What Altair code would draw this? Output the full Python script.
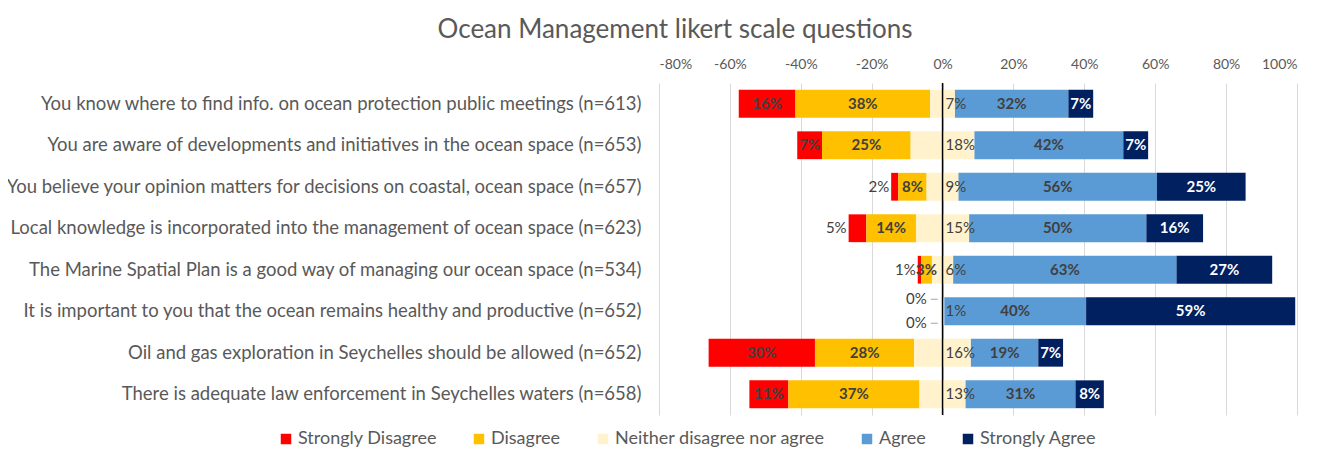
import altair as alt
import pandas as pd

questions = [
    "You know where to find info. on ocean protection public meetings (n=613)",
    "You are aware of developments and initiatives in the ocean space (n=653)",
    "You believe your opinion matters for decisions on coastal, ocean space (n=657)",
    "Local knowledge is incorporated into the management of ocean space (n=623)",
    "The Marine Spatial Plan is a good way of managing our ocean space (n=534)",
    "It is important to you that the ocean remains healthy and productive (n=652)",
    "Oil and gas exploration in Seychelles should be allowed (n=652)",
    "There is adequate law enforcement in Seychelles waters (n=658)",
]
strongly_disagree = [16, 7, 2, 5, 1, 0, 30, 11]
disagree = [38, 25, 8, 14, 3, 0, 28, 37]
neutral = [7, 18, 9, 15, 6, 1, 16, 13]
agree = [32, 42, 56, 50, 63, 40, 19, 31]
strongly_agree = [7, 7, 25, 16, 27, 59, 7, 8]

categories = ["Strongly Disagree", "Disagree", "Neither disagree nor agree",
              "Agree", "Strongly Agree"]
colors = ["#FF0000", "#FFC000", "#FFF2CC", "#5B9BD5", "#002060"]
tick_values = [-80, -60, -40, -20, 0, 20, 40, 60, 80, 100]

FONT = "Lato"
TXT = "#595959"
LBL = "#404040"

segs, bold_lab, white_lab, neut_lab, out_lab, zero_up, zero_dn = [], [], [], [], [], [], []
for i, q in enumerate(questions):
    sd, d, n, a, sa = strongly_disagree[i], disagree[i], neutral[i], agree[i], strongly_agree[i]
    h = n / 2
    parts = [
        (categories[0], -(sd + d + h), -(d + h), sd),
        (categories[1], -(d + h), -h, d),
        (categories[2], -h, h, n),
        (categories[3], h, h + a, a),
        (categories[4], h + a, h + a + sa, sa),
    ]
    for cat, s, e, v in parts:
        segs.append({"q": q, "cat": cat, "start": s, "end": e, "v": v})
    s0, e0 = parts[0][1], parts[0][2]
    if sd >= 7:
        bold_lab.append({"q": q, "x": (s0 + e0) / 2, "t": f"{sd}%"})
    elif sd > 0:
        out_lab.append({"q": q, "x": s0, "t": f"{sd}%"})
    else:
        zero_up.append({"q": q, "x": s0, "t": f"{sd}%"})
    s1, e1 = parts[1][1], parts[1][2]
    if d > 0:
        bold_lab.append({"q": q, "x": (s1 + e1) / 2, "t": f"{d}%"})
    else:
        zero_dn.append({"q": q, "x": s1, "t": f"{d}%"})
    neut_lab.append({"q": q, "x": 0, "t": f"{n}%"})
    bold_lab.append({"q": q, "x": (parts[3][1] + parts[3][2]) / 2, "t": f"{a}%"})
    white_lab.append({"q": q, "x": (parts[4][1] + parts[4][2]) / 2, "t": f"{sa}%"})

xscale = alt.Scale(domain=[-80, 100], nice=False, zero=False)
yscale = alt.Scale(domain=questions, paddingInner=0.33, paddingOuter=0.165)

x_axis = alt.Axis(orient="top", values=tick_values, labelExpr="datum.value + '%'",
                  grid=True, gridColor="#D9D9D9", ticks=False, domain=False,
                  labelFontSize=14, labelColor=TXT, labelFont=FONT, labelPadding=12,
                  title=None)
y_axis = alt.Axis(ticks=False, domain=False, labelFontSize=18.5, labelColor=TXT,
                  labelFont=FONT, labelPadding=18, labelLimit=1000, title=None, grid=False)

Y = alt.Y("q:N", scale=yscale, sort=questions, axis=y_axis)
X = alt.X("x:Q", scale=xscale, axis=x_axis)

bars = alt.Chart(pd.DataFrame(segs)).mark_bar().encode(
    x=alt.X("start:Q", scale=xscale, axis=x_axis),
    x2="end:Q",
    y=Y,
    color=alt.Color("cat:N", scale=alt.Scale(domain=categories, range=colors),
                    legend=alt.Legend(title=None, orient="none", direction="horizontal",
                                      legendX=-382, legendY=347, symbolType="square",
                                      symbolSize=110, symbolStrokeWidth=0,
                                      labelFontSize=18, labelColor=TXT, labelFont=FONT,
                                      labelLimit=1000, columnPadding=33, labelOffset=3)),
)

zero_rule = alt.Chart(pd.DataFrame({"x": [0]})).mark_rule(color="black", strokeWidth=1.5).encode(
    x=X
)

def text_layer(rows, **kw):
    return alt.Chart(pd.DataFrame(rows)).mark_text(font=FONT, fontSize=15, **kw).encode(
        x=X, y=Y, text="t:N")

t_bold = text_layer(bold_lab, fontWeight="bold", color=LBL)
t_white = text_layer(white_lab, fontWeight="bold", color="white")
t_neut = text_layer(neut_lab, color=LBL, align="left", dx=3)
t_out = text_layer(out_lab, color=LBL, align="right", dx=-2)
t_zu = text_layer(zero_up, color=LBL, align="right", dx=-14, dy=-12)
t_zd = text_layer(zero_dn, color=LBL, align="right", dx=-14, dy=12)

lead_up = alt.Chart(pd.DataFrame(zero_up)).mark_rule(
    color="#A6A6A6", xOffset=-10, x2Offset=-3, yOffset=-12).encode(
    x=X, x2="x:Q", y=Y)
lead_dn = alt.Chart(pd.DataFrame(zero_dn)).mark_rule(
    color="#A6A6A6", xOffset=-10, x2Offset=-3, yOffset=12).encode(
    x=X, x2="x:Q", y=Y)

chart = alt.layer(bars, zero_rule, lead_up, lead_dn, t_bold, t_white, t_neut, t_out, t_zu, t_zd).properties(
    width=638, height=332,
    title=alt.TitleParams("Ocean Management likert scale questions", font=FONT, fontSize=26,
                          fontWeight="normal", color=TXT, anchor="middle", dx=-303, offset=14),
    autosize=alt.AutoSizeParams(type="none"),
    padding={"left": 651, "top": 75, "right": 23, "bottom": 33},
).configure_view(stroke=None)

chart.save("out.html", embed_options={"renderer": "svg", "actions": False})
